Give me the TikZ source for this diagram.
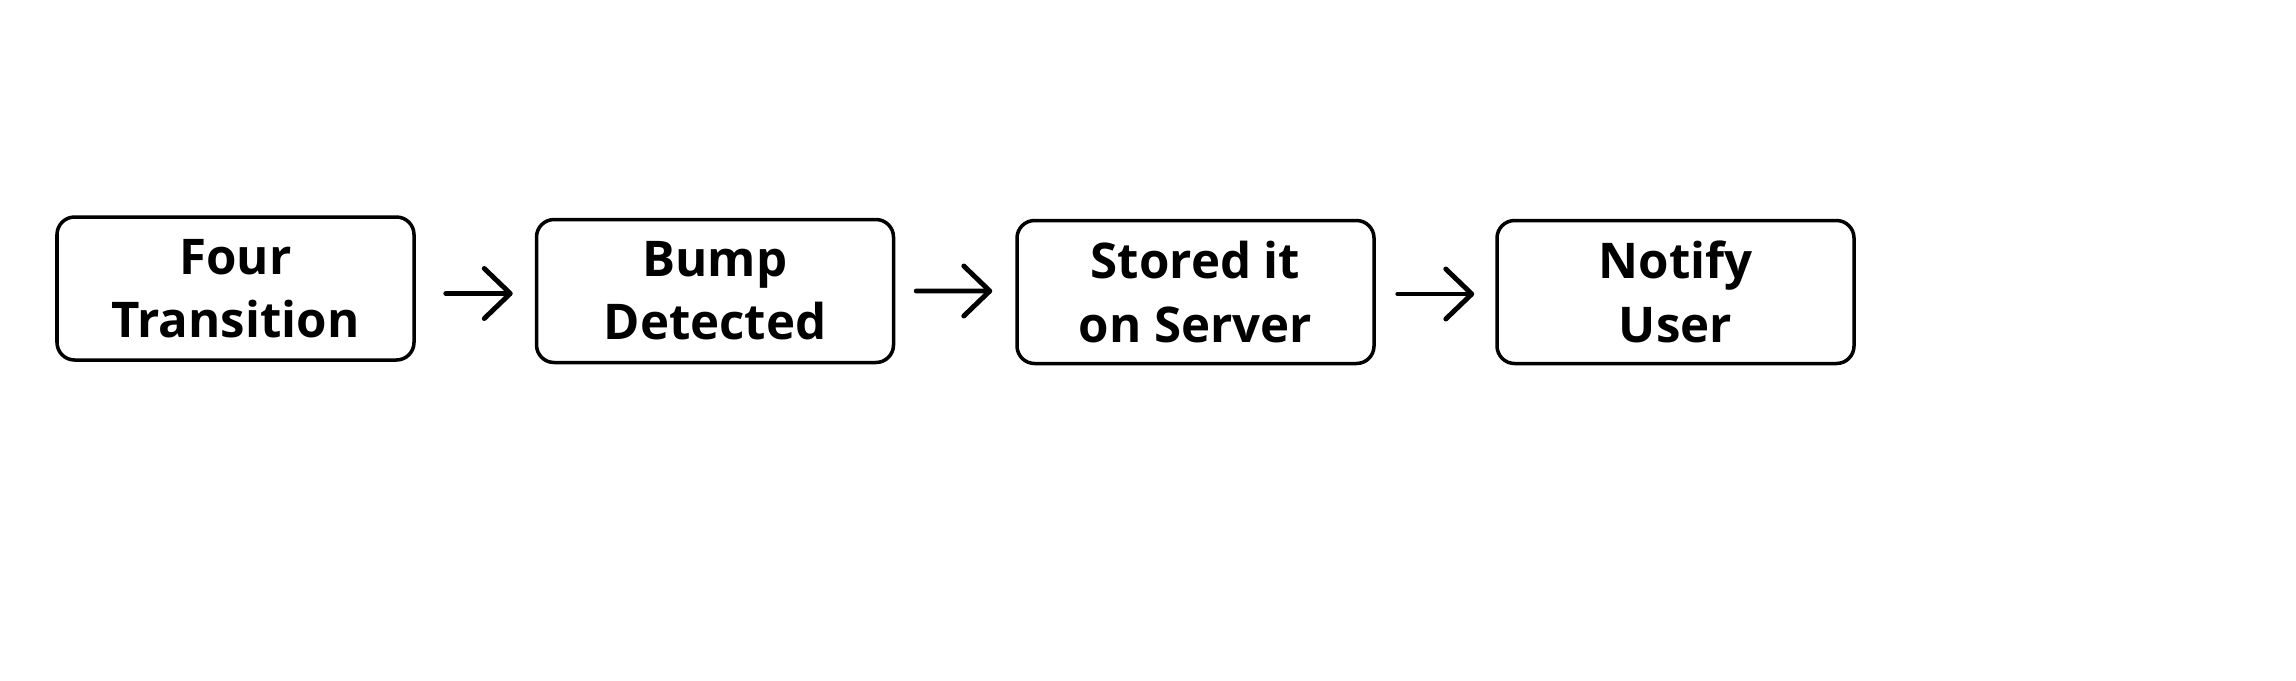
\documentclass[tikz,border=0pt]{standalone}
\usepackage{fontspec}
\setmainfont{Open Sans}
\usetikzlibrary{arrows.meta, positioning}
\tikzset{
  % Process step box.
  stepbox/.style={
    rectangle, rounded corners=5pt,
    draw=black, line width=1pt,
    fill=white,
    minimum width=35.7mm, minimum height=14.3mm,
    align=center,
    font=\fontsize{14}{18}\selectfont\bfseries,
  },
  % Arrows between steps.
  flow/.style={
    -{Straight Barb[length=2.6mm, width=5mm, line width=1.4pt, round]},
    line width=1.4pt, line cap=round,
  },
}
\begin{document}
\begin{tikzpicture}[x=1cm, y=1cm]

  \useasboundingbox (0,0) rectangle (22.96,6.8);

  % Four steps in a row.
  \node[stepbox] (four)   at ( 2.355, 3.915) {Four\\Transition};
  \node[stepbox] (bump)   at ( 7.150, 3.890) {Bump\\Detected};
  \node[stepbox] (stored) at (11.955, 3.880) {Stored it\\on Server};
  \node[stepbox] (notify) at (16.755, 3.880) {Notify\\User};

  % Arrows, not touching the boxes.
  \draw[flow] ([xshift=3mm, yshift=-0.5mm]four.east) -- ([xshift=-2.2mm, yshift=-0.25mm]bump.west);
  \draw[flow] ([xshift=2.1mm]bump.east) -- ([xshift=-2.3mm, yshift=0.1mm]stored.west);
  \draw[flow] ([xshift=2.2mm, yshift=-0.2mm]stored.east) -- ([xshift=-2.1mm, yshift=-0.2mm]notify.west);

\end{tikzpicture}
\end{document}
